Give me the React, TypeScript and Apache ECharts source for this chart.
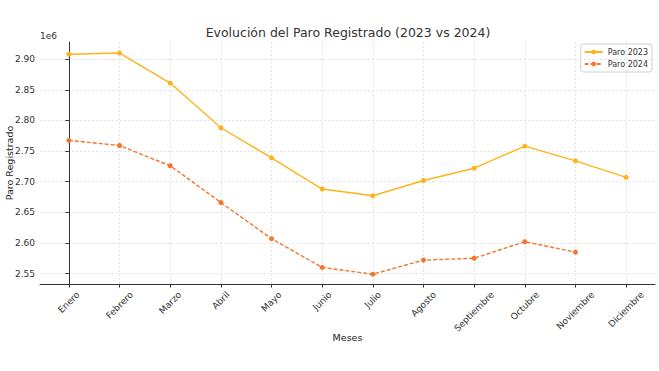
import React, { useEffect, useRef } from "react";
import * as echarts from "echarts";

const months = ["Enero", "Febrero", "Marzo", "Abril", "Mayo", "Junio", "Julio", "Agosto", "Septiembre", "Octubre", "Noviembre", "Diciembre"];
const paro2023 = [2908000, 2910000, 2861000, 2788000, 2739000, 2688000, 2677000, 2702000, 2722000, 2758000, 2734000, 2707000];
const paro2024 = [2767500, 2759000, 2726000, 2666000, 2607000, 2560000, 2549000, 2572000, 2575000, 2602000, 2585000];
const yTicks = [2.55, 2.6, 2.65, 2.7, 2.75, 2.8, 2.85, 2.9];

const FONT = "DejaVu Sans";
const XFS = 9;

function measure(text: string, size: number): number {
  const c = document.createElement("canvas").getContext("2d");
  if (!c) return text.length * size * 0.6;
  c.font = `${size}px "${FONT}"`;
  return c.measureText(text).width;
}

export default function App() {
  const ref = useRef<HTMLDivElement>(null);
  useEffect(() => {
    if (!ref.current) return;
    const chart = echarts.init(ref.current, null, { renderer: "svg" });
    const idx = months.map((_, i) => i);
    const rich: Record<string, any> = {};
    months.forEach((m, i) => {
      const w = measure(m, XFS);
      const d = 0.3535 * (w + XFS);
      const p = 1.414 * d;
      rich["m" + i] = {
        fontFamily: FONT,
        fontSize: XFS,
        color: "#333333",
        padding: [p, p, 0, 0],
      };
    });
    chart.setOption({
      animation: false,
      backgroundColor: "#ffffff",
      textStyle: { fontFamily: FONT },
      title: {
        text: "Evolución del Paro Registrado (2023 vs 2024)",
        left: 343,
        textAlign: "center",
        top: 21,
        textStyle: { fontFamily: FONT, fontSize: 12.5, fontWeight: "normal", color: "#333333" },
      },
      legend: {
        right: 7,
        top: 44,
        orient: "vertical",
        itemWidth: 18,
        itemHeight: 6,
        itemGap: 4,
        padding: [4, 4, 4, 3],
        borderColor: "#d0d0d0",
        borderWidth: 1,
        borderRadius: 3,
        textStyle: { fontFamily: FONT, fontSize: 8, color: "#333333" },
      },
      grid: { left: 40, right: 4, top: 42, bottom: 87, containLabel: false, outerBoundsMode: "none" },
      xAxis: {
        type: "value",
        min: -0.57,
        max: 11.57,
        name: "Meses",
        nameLocation: "middle",
        nameGap: 48.5,
        nameMoveOverlap: false,
        nameTextStyle: { fontFamily: FONT, fontSize: 9.5, color: "#222222" },
        axisLine: { show: true, lineStyle: { color: "#333333", width: 1 } },
        axisTick: { show: true, customValues: idx, length: 3.5, lineStyle: { color: "#333333" } },
        axisLabel: {
          customValues: idx,
          rotate: 45,
          margin: 6,
          align: "center",
          verticalAlign: "middle",
          fontFamily: FONT,
          fontSize: XFS,
          color: "#333333",
          hideOverlap: false,
          formatter: (v: number) => {
            const i = Math.round(v);
            return months[i] ? `{m${i}|${months[i]}}` : "";
          },
          rich,
        },
        splitLine: { show: true, lineStyle: { color: "#dddddd", type: [2, 2], width: 0.8 } },
      },
      yAxis: {
        type: "value",
        min: 2533000,
        max: 2928000,
        name: "Paro Registrado",
        nameLocation: "middle",
        nameGap: 25.5,
        nameMoveOverlap: false,
        nameRotate: 90,
        nameTextStyle: { fontFamily: FONT, fontSize: 9.5, color: "#222222" },
        axisLine: { show: true, lineStyle: { color: "#333333", width: 1 } },
        axisTick: { show: true, customValues: yTicks.map((t) => Math.round(t * 1e6)), length: 3.5, lineStyle: { color: "#333333" } },
        axisLabel: {
          customValues: yTicks.map((t) => Math.round(t * 1e6)),
          fontFamily: FONT,
          fontSize: 9,
          color: "#333333",
          margin: 5,
          formatter: (v: number) => (v / 1e6).toFixed(2),
        },
        splitLine: { show: true, lineStyle: { color: "#dddddd", type: [2, 2], width: 0.8 } },
      },
      graphic: [
        {
          type: "text",
          left: 40,
          top: 31,
          style: { text: "1e6", fontFamily: FONT, fontSize: 9, fill: "#333333" },
        },
      ],
      series: [
        {
          name: "Paro 2023",
          type: "line",
          data: paro2023.map((v, i) => [i, v]),
          symbol: "circle",
          symbolSize: 5,
          itemStyle: { color: "#FFB31A" },
          lineStyle: { color: "#FFB31A", width: 1.4 },
        },
        {
          name: "Paro 2024",
          type: "line",
          data: paro2024.map((v, i) => [i, v]),
          symbol: "circle",
          symbolSize: 5,
          itemStyle: { color: "#F4752D" },
          lineStyle: { color: "#F4752D", width: 1.4, type: [4, 2] },
        },
      ],
    });
    return () => chart.dispose();
  }, []);
  return <div ref={ref} style={{ width: 659, height: 371, position: "absolute", left: 0, top: 0 }} />;
}
